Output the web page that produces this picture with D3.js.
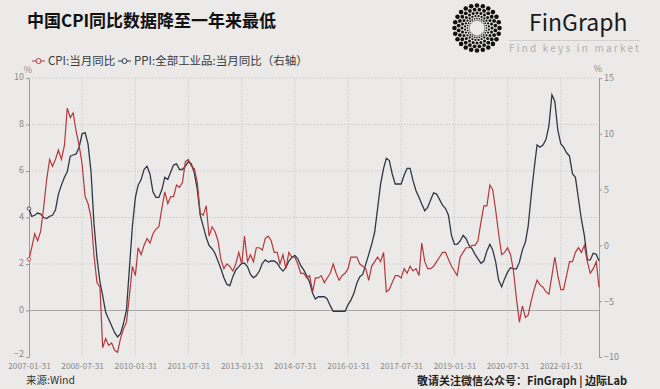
<!DOCTYPE html>
<html>
<head>
<meta charset="UTF-8">
<title>中国CPI同比数据降至一年来最低</title>
<style>
    body { margin: 0; padding: 0; background: #ebeae9; }
    svg { display: block; }
    text { font-family: "Noto Sans CJK SC", "Noto Sans", sans-serif; }
</style>
</head>
<body>
<svg width="660" height="389"></svg>
<script src="https://cdn.jsdelivr.net/npm/d3@7"></script>
<script>
// monthly data, 2007-01 .. 2023-02
var firstMonth = "2007-01";

var cpi = [
    2.2, 2.7, 3.3, 3.0, 3.4, 4.4, 5.6, 6.5, 6.2, 6.5, 6.9, 6.5,
    7.1, 8.7, 8.3, 8.5, 7.7, 7.1, 6.3, 4.9, 4.6, 4.0, 2.4, 1.2,
    1.0, -1.6, -1.2, -1.5, -1.4, -1.7, -1.8, -1.2, -0.8, -0.5, 0.6, 1.9,
    1.5, 2.7, 2.4, 2.8, 3.1, 2.9, 3.3, 3.5, 3.6, 4.4, 5.1, 4.6,
    4.9, 4.9, 5.4, 5.3, 5.5, 6.4, 6.5, 6.2, 6.1, 5.5, 4.2, 4.1,
    4.5, 3.2, 3.6, 3.4, 3.0, 2.2, 1.8, 2.0, 1.9, 1.7, 2.0, 2.5,
    2.0, 3.2, 2.1, 2.4, 2.1, 2.7, 2.7, 2.6, 3.1, 3.2, 3.0, 2.5,
    2.5, 2.0, 2.4, 1.8, 2.5, 2.3, 2.3, 2.0, 1.6, 1.6, 1.4, 1.5,
    0.8, 1.4, 1.4, 1.5, 1.2, 1.4, 1.6, 2.0, 1.6, 1.3, 1.5, 1.6,
    1.8, 2.3, 2.3, 2.3, 2.0, 1.9, 1.8, 1.3, 1.9, 2.1, 2.3, 2.1,
    2.5, 0.8, 0.9, 1.2, 1.5, 1.5, 1.4, 1.8, 1.6, 1.9, 1.7, 1.8,
    1.5, 2.9, 2.1, 1.8, 1.8, 1.9, 2.1, 2.3, 2.5, 2.5, 2.2, 1.9,
    1.7, 1.5, 2.3, 2.5, 2.7, 2.7, 2.8, 2.8, 3.0, 3.8, 4.5, 4.5,
    5.4, 5.2, 4.3, 3.3, 2.4, 2.5, 2.7, 2.4, 1.7, 0.5, -0.5, 0.2,
    -0.3, -0.2, 0.4, 0.9, 1.3, 1.1, 1.0, 0.8, 0.7, 1.5, 2.3, 1.5,
    0.9, 0.9, 1.5, 2.1, 2.1, 2.5, 2.7, 2.5, 2.8, 2.1, 1.6, 1.8,
    2.1, 1.0
];

var ppi = [
    3.3, 2.6, 2.7, 2.9, 2.8, 2.5, 2.4, 2.6, 2.7, 3.2, 4.6, 5.4,
    6.1, 6.6, 8.0, 8.1, 8.2, 8.8, 10.0, 10.1, 9.1, 6.6, 2.0, -1.1,
    -3.3, -4.5, -6.0, -6.6, -7.2, -7.8, -8.2, -7.9, -7.0, -5.8, -2.1, 1.7,
    4.3, 5.4, 5.9, 6.8, 7.1, 6.4, 4.8, 4.3, 4.3, 5.0, 6.1, 5.9,
    6.6, 7.2, 7.3, 6.8, 6.8, 7.1, 7.5, 7.3, 6.5, 5.0, 2.7, 1.7,
    0.7, 0.0, -0.3, -0.7, -1.4, -2.1, -2.9, -3.5, -3.6, -2.8, -2.2, -1.9,
    -1.6, -1.6, -1.9, -2.6, -2.9, -2.7, -2.3, -1.6, -1.3, -1.5, -1.4, -1.4,
    -1.6, -2.0, -2.3, -2.0, -1.4, -1.1, -0.9, -1.2, -1.8, -2.2, -2.7, -3.3,
    -4.3, -4.8, -4.6, -4.6, -4.6, -4.8, -5.4, -5.9, -5.9, -5.9, -5.9, -5.9,
    -5.3, -4.9, -4.3, -3.4, -2.8, -2.6, -1.7, -0.8, 0.1, 1.2, 3.3, 5.5,
    6.9, 7.8, 7.6, 6.4, 5.5, 5.5, 5.5, 6.3, 6.9, 6.9, 5.8, 4.9,
    4.3, 3.7, 3.1, 3.4, 4.1, 4.7, 4.6, 4.1, 3.6, 3.3, 2.7, 0.9,
    0.1, 0.1, 0.4, 0.9, 0.6, 0.0, -0.3, -0.8, -1.2, -1.6, -1.4, -0.5,
    0.1, -0.4, -1.5, -3.1, -3.7, -3.0, -2.4, -2.0, -2.1, -2.1, -1.5, -0.4,
    0.3, 1.7, 4.4, 6.8, 9.0, 8.8, 9.0, 9.5, 10.7, 13.5, 12.9, 10.3,
    9.1, 8.8, 8.3, 8.0, 6.4, 6.1, 4.2, 2.3, 0.9, -1.3, -1.3, -0.7,
    -0.8, -1.4
];

var xTickLabels = ["2007-01-31", "2008-07-31", "2010-01-31", "2011-07-31", "2013-01-31",
    "2014-07-31", "2016-01-31", "2017-07-31", "2019-01-31", "2020-07-31", "2022-01-31"];
var leftTicks = [-2, 0, 2, 4, 6, 8, 10];
var rightTicks = [-10, -5, 0, 5, 10, 15];

var cpiColor = "#b5383b",
    ppiColor = "#2e3947",
    bgColor = "#ebeae9";

var svg = d3.select("svg");
var parseDay = d3.timeParse("%Y-%m-%d");
var start = d3.timeParse("%Y-%m")(firstMonth);

// month-end dates
var dates = cpi.map(function (d, i) {
    return d3.timeDay.offset(d3.timeMonth.offset(start, i + 1), -1);
});

var plotLeft = 29, plotRight = 599, plotTop = 78, plotBottom = 357;

var x = d3.scaleTime()
    .domain([dates[0], dates[dates.length - 1]])
    .range([plotLeft, plotRight]);
var yL = d3.scaleLinear().domain([-2, 10]).range([plotBottom, plotTop]);
var yR = d3.scaleLinear().domain([-10, 15]).range([plotBottom, plotTop]);

// grid
var grid = svg.append("g");
grid.selectAll("line.v")
    .data(xTickLabels.slice(1))
    .enter().append("line")
    .attr("x1", function (d) { return x(parseDay(d)); })
    .attr("x2", function (d) { return x(parseDay(d)); })
    .attr("y1", plotTop).attr("y2", plotBottom)
    .attr("stroke", "#cfcecd")
    .attr("stroke-dasharray", "1.5,1.5");
grid.selectAll("line.h")
    .data(leftTicks.filter(function (d) { return d > 0; }))
    .enter().append("line")
    .attr("x1", plotLeft).attr("x2", plotRight)
    .attr("y1", function (d) { return yL(d); })
    .attr("y2", function (d) { return yL(d); })
    .attr("stroke", "#cfcecd")
    .attr("stroke-dasharray", "1.5,1.5");
grid.append("line")
    .attr("x1", plotLeft).attr("x2", plotRight)
    .attr("y1", yL(0)).attr("y2", yL(0))
    .attr("stroke", "#a9a8a7");

// axes
var axisL = svg.append("g")
    .attr("transform", "translate(" + plotLeft + ",0)")
    .call(d3.axisLeft(yL).tickValues(leftTicks).tickSize(3).tickSizeOuter(0).tickPadding(2));
var axisR = svg.append("g")
    .attr("transform", "translate(" + plotRight + ",0)")
    .call(d3.axisRight(yR).tickValues(rightTicks).tickSize(3).tickSizeOuter(0).tickPadding(2));
var axisB = svg.append("g")
    .attr("transform", "translate(0," + plotBottom + ")")
    .call(d3.axisBottom(x).tickValues(xTickLabels.map(parseDay))
        .tickFormat(d3.timeFormat("%Y-%m-%d")).tickSize(0).tickPadding(6));
axisB.select(".domain").remove();
[axisL, axisR, axisB].forEach(function (a) {
    a.selectAll(".domain, line").attr("stroke", "#9a9a9a");
    a.selectAll("text").attr("fill", "#8a8a8a").style("font-size", "9px");
});
axisB.selectAll("text").style("font-size", "8.3px");
axisL.selectAll("text").attr("dy", function (d) { return d === -2 ? "-0.1em" : "0.2em"; });

svg.append("text").attr("x", 28).attr("y", 73).attr("text-anchor", "middle")
    .attr("fill", "#8a8a8a").style("font-size", "9px").text("%");
svg.append("text").attr("x", 598).attr("y", 72).attr("text-anchor", "middle")
    .attr("fill", "#8a8a8a").style("font-size", "9px").text("%");

// lines
var lineL = d3.line()
    .x(function (d, i) { return x(dates[i]); })
    .y(function (d) { return yL(d); });
var lineR = d3.line()
    .x(function (d, i) { return x(dates[i]); })
    .y(function (d) { return yR(d); });

svg.append("path").datum(ppi).attr("d", lineR)
    .attr("fill", "none").attr("stroke", ppiColor).attr("stroke-width", 1.3);
svg.append("path").datum(cpi).attr("d", lineL)
    .attr("fill", "none").attr("stroke", cpiColor).attr("stroke-width", 1.2);

svg.append("circle").attr("cx", x(dates[0])).attr("cy", yR(ppi[0])).attr("r", 1.8)
    .attr("fill", bgColor).attr("stroke", ppiColor).attr("stroke-width", 0.8);
svg.append("circle").attr("cx", x(dates[0])).attr("cy", yL(cpi[0])).attr("r", 1.8)
    .attr("fill", bgColor).attr("stroke", cpiColor).attr("stroke-width", 0.8);

// title
svg.append("text").attr("x", 27).attr("y", 27)
    .attr("fill", "#111").style("font-size", "17px").style("font-weight", "bold")
    .text("中国CPI同比数据降至一年来最低");

// legend
var legend = [
    {name: "CPI:当月同比", color: cpiColor, x: 32},
    {name: "PPI:全部工业品:当月同比（右轴）", color: ppiColor, x: 118}
];
var lg = svg.selectAll("g.legend").data(legend).enter().append("g")
    .attr("transform", function (d) { return "translate(" + d.x + ",61)"; });
lg.append("line").attr("x1", 0).attr("x2", 13).attr("y1", 0).attr("y2", 0)
    .attr("stroke", function (d) { return d.color; });
lg.append("circle").attr("cx", 6.5).attr("cy", 0).attr("r", 2.5)
    .attr("fill", bgColor).attr("stroke", function (d) { return d.color; });
lg.append("text").attr("x", 16).attr("y", 4)
    .attr("fill", "#3a3a3a").style("font-size", "11.5px")
    .text(function (d) { return d.name; });

// logo
var logo = svg.append("g").attr("transform", "translate(477,28)");
var rings = [
    {r: 22.5, dot: 2.3, n: 24},
    {r: 18.5, dot: 1.9, n: 24},
    {r: 15, dot: 1.5, n: 24},
    {r: 12, dot: 1.15, n: 24},
    {r: 9.6, dot: 0.85, n: 24},
    {r: 7.8, dot: 0.6, n: 24}
];
rings.forEach(function (ring, k) {
    logo.selectAll(null)
        .data(d3.range(ring.n))
        .enter().append("circle")
        .attr("cx", function (i) { return ring.r * Math.cos((i + (k % 2) / 2) / ring.n * 2 * Math.PI); })
        .attr("cy", function (i) { return ring.r * Math.sin((i + (k % 2) / 2) / ring.n * 2 * Math.PI); })
        .attr("r", ring.dot)
        .attr("fill", "#111");
});
svg.append("text").attr("x", 529).attr("y", 31)
    .attr("fill", "#1a1a1a").style("font-size", "23px")
    .text("FinGraph");
svg.append("line").attr("x1", 509).attr("x2", 640).attr("y1", 40.5).attr("y2", 40.5)
    .attr("stroke", "#d0d0d0");
svg.append("text").attr("x", 509).attr("y", 52)
    .attr("fill", "#b0b0b0").style("font-size", "10px").style("letter-spacing", "2.2px")
    .text("Find keys in market");

// footer
svg.append("text").attr("x", 26).attr("y", 384)
    .attr("fill", "#333").style("font-size", "10.5px")
    .text("来源:Wind");
svg.append("text").attr("x", 627).attr("y", 385).attr("text-anchor", "end")
    .attr("fill", "#222").style("font-size", "11px").style("font-weight", "bold")
    .text("敬请关注微信公众号：FinGraph | 边际Lab");
</script>
</body>
</html>
